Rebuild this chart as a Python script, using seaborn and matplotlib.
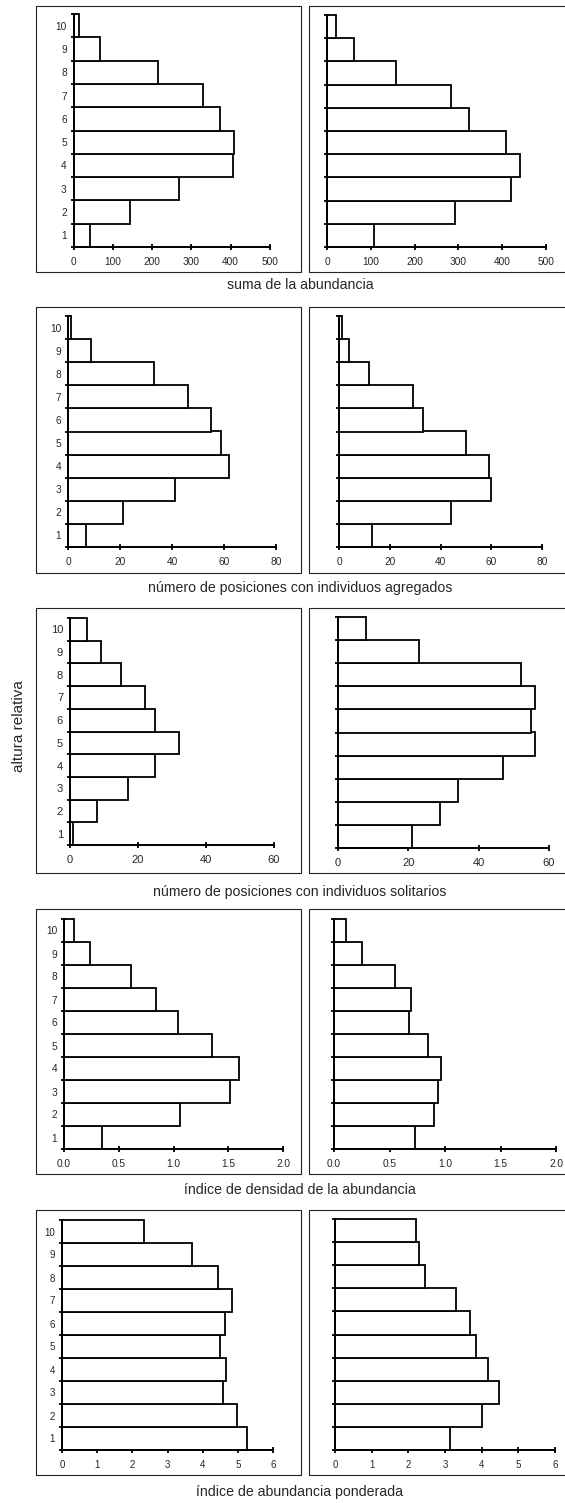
import matplotlib
matplotlib.use("Agg")
import matplotlib.pyplot as plt
from matplotlib.patches import Rectangle
import pandas as pd
import seaborn as sns

# alturas relativas (categorias del eje y)
altura = [1, 2, 3, 4, 5, 6, 7, 8, 9, 10]

# suma de la abundancia
abund_izq = [42, 144, 267, 407, 409, 373, 329, 215, 66, 13]
abund_der = [107, 292, 420, 440, 409, 324, 282, 158, 62, 20]

# numero de posiciones con individuos agregados
agreg_izq = [7, 21, 41, 62, 59, 55, 46, 33, 9, 1]
agreg_der = [13, 44, 60, 59, 50, 33, 29, 12, 4, 1]

# numero de posiciones con individuos solitarios
solit_izq = [1, 8, 17, 25, 32, 25, 22, 15, 9, 5]
solit_der = [21, 29, 34, 47, 56, 55, 56, 52, 23, 8]

# indice de densidad de la abundancia
dens_izq = [0.35, 1.06, 1.52, 1.60, 1.35, 1.04, 0.84, 0.61, 0.24, 0.09]
dens_der = [0.73, 0.90, 0.94, 0.96, 0.85, 0.68, 0.69, 0.55, 0.25, 0.11]

# indice de abundancia ponderada
pond_izq = [5.25, 4.97, 4.58, 4.66, 4.48, 4.64, 4.84, 4.45, 3.71, 2.33]
pond_der = [3.14, 4.01, 4.46, 4.17, 3.85, 3.68, 3.31, 2.46, 2.30, 2.21]

titulos = ["suma de la abundancia",
           "número de posiciones con individuos agregados",
           "número de posiciones con individuos solitarios",
           "índice de densidad de la abundancia",
           "índice de abundancia ponderada"]
xmax = [500, 80, 60, 2.0, 6]
xticks = [[0, 100, 200, 300, 400, 500],
          [0, 20, 40, 60, 80],
          [0, 20, 40, 60],
          [0.0, 0.5, 1.0, 1.5, 2.0],
          [0, 1, 2, 3, 4, 5, 6]]
series = [(abund_izq, abund_der), (agreg_izq, agreg_der), (solit_izq, solit_der),
          (dens_izq, dens_der), (pond_izq, pond_der)]

# layout in pixels: (x0, ytop, x1, ybottom)
W, H = 565, 1503
ax_izq = [(73.7, 14, 270, 247), (68, 316, 276, 547), (70, 618, 274, 845),
          (64, 919, 283, 1149), (62, 1220, 273, 1450)]
ax_der = [(327, 15, 546, 247), (339, 316, 542, 547), (338, 617, 549, 848),
          (334, 919, 556, 1149), (335, 1219, 555, 1450)]
marcos_y = [(6, 272), (307, 573), (608, 873), (909, 1174), (1210, 1475)]
label_y = [285, 588, 892, 1190, 1492]
tick_fs = [7.3, 7.3, 8, 7.3, 7]

sns.set_theme(style="white")
plt.rcParams['font.family'] = ['Liberation Sans', 'DejaVu Sans']

fig = plt.figure(figsize=(W / 100, H / 100), dpi=100)


def px_rect(x0, y0, x1, y1):
    return [x0 / W, 1 - y1 / H, (x1 - x0) / W, (y1 - y0) / H]


def draw_panel(box, valores, xm, ticks, etiquetas, fs):
    ax = fig.add_axes(px_rect(*box))
    df = pd.DataFrame({'altura': altura, 'valor': valores})
    sns.barplot(data=df, x='valor', y='altura', orient='h', native_scale=True,
                width=1, color='white', edgecolor='black', linewidth=1.3,
                saturation=1, ax=ax)
    for p in ax.patches:
        p.set_clip_on(False)
    ax.set_xlim(0, xm)
    ax.set_ylim(0.5, 10.5)
    ax.set_facecolor('none')
    for s in ['top', 'right']:
        ax.spines[s].set_visible(False)
    for s in ['left', 'bottom']:
        ax.spines[s].set_linewidth(1.4)
        ax.spines[s].set_color('black')
    ax.set_xticks(ticks)
    if xm == 2.0:
        ax.set_xticklabels([f"{t:.1f}" for t in ticks])
    else:
        ax.set_xticklabels([str(t) for t in ticks])
    ax.set_yticks([a - 0.5 for a in altura] + [10.5])
    ax.set_yticklabels([])
    ax.set_yticks(altura, minor=True)
    if etiquetas:
        ax.set_yticklabels([str(a) for a in altura], minor=True)
    ax.tick_params(axis='both', which='major', direction='inout', length=4,
                   width=1.3, color='black', labelsize=fs, pad=5,
                   bottom=True, left=True)
    ax.tick_params(axis='y', which='minor', length=0, labelsize=fs, pad=5, left=True)
    ax.set_xlabel('')
    ax.set_ylabel('')
    return ax


for i in range(5):
    draw_panel(ax_izq[i], series[i][0], xmax[i], xticks[i], True, tick_fs[i])
    draw_panel(ax_der[i], series[i][1], xmax[i], xticks[i], False, tick_fs[i])
    y0, y1 = marcos_y[i]
    for x0, x1 in [(36, 301), (309, 568)]:
        fig.patches.append(Rectangle((x0 / W, 1 - y1 / H), (x1 - x0) / W, (y1 - y0) / H,
                                     transform=fig.transFigure, fill=False,
                                     edgecolor='#222222', linewidth=0.8))
    fig.text(300 / W, 1 - label_y[i] / H, titulos[i], ha='center', va='center',
             fontsize=10.2)

fig.text(19 / W, 1 - 726 / H, "altura relativa", rotation=90, ha='center',
         va='center', fontsize=11)

fig.savefig("out.png", dpi=100)
